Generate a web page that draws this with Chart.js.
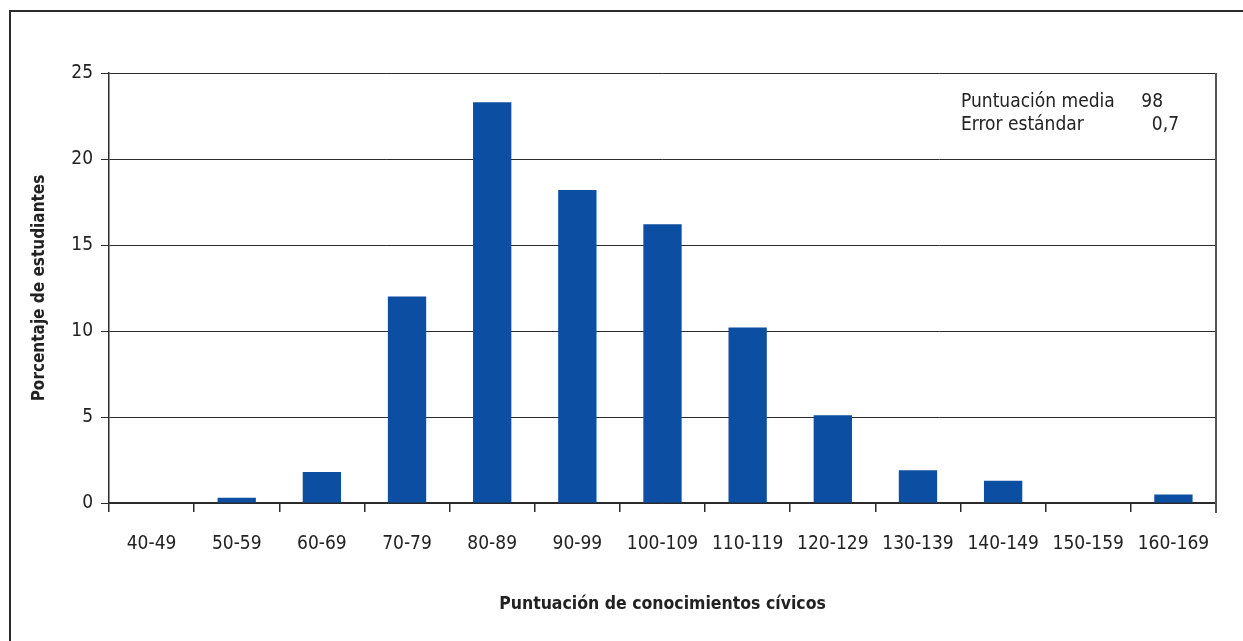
<!DOCTYPE html>
<html>
<head>
<meta charset="utf-8">
<script src="https://cdn.jsdelivr.net/npm/chart.js@4"></script>
<style>
  html, body { margin: 0; padding: 0; background: #fff; }
  #wrap { position: relative; width: 1243px; height: 641px; overflow: hidden; }
  #frame { position: absolute; left: 9px; top: 10px; width: 1300px; height: 700px;
           border-left: 2px solid #2b2b2b; border-top: 2px solid #2b2b2b; }
  canvas { position: absolute; left: 0; top: 0; }
</style>
</head>
<body>
<div id="wrap">
  <div id="frame"></div>
  <canvas id="graph" width="1243" height="641"></canvas>
</div>
<script>
// categorias de puntuacion y porcentaje de estudiantes
const categorias = ["40-49","50-59","60-69","70-79","80-89","90-99","100-109","110-119","120-129","130-139","140-149","150-159","160-169"];
const porcentajes = [0, 0.3, 1.8, 12.0, 23.3, 18.2, 16.2, 10.2, 5.1, 1.9, 1.3, 0, 0.5];
const ticksY = [0, 5, 10, 15, 20, 25];
const etiquetasResumen = ["Puntuación media", "Error estándar"];
const valoresResumen = ["98", "0,7"];

const fuente = "'DejaVu Sans Condensed', 'Liberation Sans Narrow', 'Liberation Sans', sans-serif";
const gris = "#2b2b2b";

// linea derecha del area + cuadro de resumen
const extras = {
  id: "extras",
  afterDraw(chart) {
    const ctx = chart.ctx;
    const a = chart.chartArea;
    ctx.save();
    ctx.strokeStyle = "#555";
    ctx.lineWidth = 2;
    ctx.beginPath();
    ctx.moveTo(a.right, a.top);
    ctx.lineTo(a.right, a.bottom + 10);
    ctx.stroke();
    ctx.fillStyle = "#222";
    ctx.font = "19px " + fuente;
    ctx.textBaseline = "middle";
    etiquetasResumen.forEach((t, i) => {
      const y = a.top + 29 + i * 23;
      ctx.textAlign = "left";
      ctx.fillText(t, a.left + 852, y);
      ctx.textAlign = "right";
      ctx.fillText(valoresResumen[i], a.right - (i === 0 ? 53 : 37), y);
    });
    ctx.restore();
  }
};

new Chart(document.getElementById("graph"), {
  type: "bar",
  data: {
    labels: categorias,
    datasets: [{
      data: porcentajes,
      backgroundColor: "#0c4ea1",
      categoryPercentage: 1,
      barPercentage: 0.45
    }]
  },
  options: {
    responsive: false,
    animation: false,
    layout: { padding: { left: 29, right: 27, top: 73, bottom: 18 } },
    plugins: { legend: { display: false }, tooltip: { enabled: false } },
    scales: {
      x: {
        offset: true,
        grid: { offset: true, drawOnChartArea: false, drawTicks: true, tickLength: 9, color: gris, lineWidth: 1.5 },
        border: { color: gris, width: 1.5 },
        ticks: { color: "#222", font: { family: fuente, size: 19 }, padding: 21, maxRotation: 0 },
        title: { display: true, text: "Puntuación de conocimientos cívicos", color: "#222",
                 font: { family: fuente, size: 17.5, weight: "bold" }, padding: { top: 11, bottom: 8 } },
        afterFit(s) { s.height = 120; }
      },
      y: {
        min: 0, max: 25,
        afterBuildTicks(s) { s.ticks = ticksY.map(v => ({ value: v })); },
        grid: { color: gris, lineWidth: 1, tickLength: 8 },
        border: { color: gris, width: 1.5 },
        ticks: { color: "#222", font: { family: fuente, size: 19 }, padding: 8 },
        title: { display: true, text: "Porcentaje de estudiantes", color: "#222",
                 font: { family: fuente, size: 17, weight: "bold" }, padding: 0 },
        afterFit(s) { s.width = 80; }
      }
    }
  },
  plugins: [extras]
});
</script>
</body>
</html>
